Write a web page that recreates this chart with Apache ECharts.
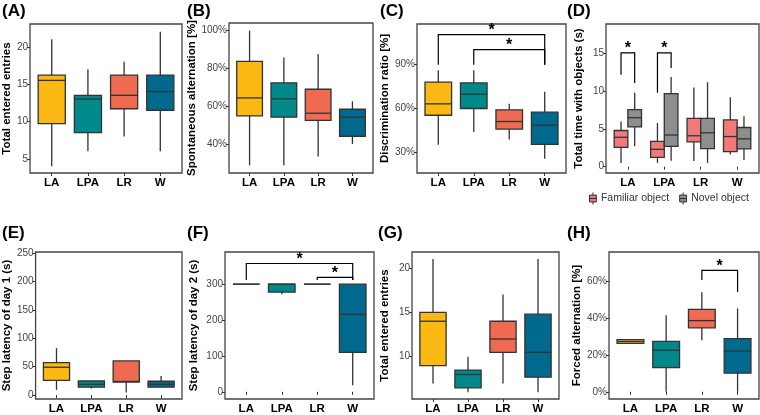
<!DOCTYPE html>
<html>
<head>
<meta charset="utf-8">
<script src="https://cdn.jsdelivr.net/npm/echarts@6/dist/echarts.min.js"></script>
<style>html,body{margin:0;padding:0;background:#fff}#c{width:760px;height:415px}</style>
</head>
<body>
<div id="c"></div>
<script>
// ---------- DATA ----------
const groups = ['LA', 'LPA', 'LR', 'W'];
// each row: [min, q1, median, q3, max]
const entriesA   = [[4, 9.7, 15.5, 16.2, 21], [6, 8.5, 13, 13.5, 17], [8, 11.7, 13.5, 16.2, 18], [6, 11.5, 14, 16.2, 22]];
const spontB     = [[28.7, 54.9, 64.4, 83.7, 100], [28.7, 54.2, 63.9, 72.4, 85.8], [33.4, 52.5, 56.3, 69, 87.6], [40, 44.1, 54.2, 58.4, 62.6]];
const discrC     = [[35.2, 55.4, 63.2, 78.1, 86.1], [44, 60, 69.8, 77.5, 86.1], [38.8, 45.9, 51.1, 59.1, 63.2], [25.7, 35.5, 48.6, 57.5, 71.4]];
const familiarD  = [[0.5, 2.57, 3.9, 4.8, 6.0], [0.5, 1.24, 2.3, 3.36, 5.8], [0.75, 3.3, 4.1, 6.4, 10.5], [1.6, 2.0, 4.0, 6.2, 9.2]];
const novelD     = [[2.7, 5.27, 6.5, 7.57, 9.8], [0.8, 2.7, 4.2, 9.7, 11.9], [0.5, 2.4, 4.5, 6.4, 11.2], [0.9, 2.35, 3.7, 5.2, 6.7]];
const latency1E  = [[9.2, 26, 49, 57.2, 82.6], [11.5, 13.9, 19, 24.8, 24.8], [4.6, 23, 24, 60, 60], [13.9, 13.9, 19, 24.3, 33.5]];
const latency2F  = [[300, 300, 300, 300, 300], [272, 278, 300, 300, 300], [300, 300, 300, 300, 300], [18, 110, 216, 300, 300]];
const entriesG   = [[7, 9, 14, 15, 21], [6, 6.5, 8, 8.5, 10], [7, 10.5, 12, 14, 17], [6, 7.7, 10.5, 14.8, 21]];
const forcedH    = [[26.2, 26.2, 27.2, 28.2, 28.2], [0, 13.1, 22.5, 27.3, 41.4], [27.9, 34.6, 38.5, 44.6, 53.8], [0, 10.1, 22, 28.8, 45.1]];
// significance brackets: [fromPos, toPos, top, leftLegEnd, rightLegEnd]
const sigC = [[1, 4, 110.5, 90, 90], [2, 4, 100.3, 90, 90]];
const sigD = [[0.8125, 1.1875, 15.1, 12.2, 11.1], [1.8125, 2.1875, 15.1, 9.8, 13.1]];
const sigF = [[1, 4, 357.6, 312, 312], [3, 4, 319, 312, 312]];
const sigH = [[3, 4, 65.7, 60.5, 54]];
// tick labels
const ticksA = [5, 10, 15, 20];
const ticksB = [40, 60, 80, 100];
const ticksC = [30, 60, 90];
const ticksD = [0, 5, 10, 15];
const ticksE = [0, 50, 100, 150, 200, 250];
const ticksF = [0, 100, 200, 300];
const ticksG = [10, 15, 20];
const ticksH = [0, 20, 40, 60];
const legendNames = ['Familiar object', 'Novel object'];

// ---------- STYLE / LAYOUT ----------
const groupColors = ['#FDB913', '#00898A', '#EE6A50', '#006A8E'];
const objectColors = ['#F07A7A', '#8E8E8E'];
const edge = '#333333';
const FONT = 'Liberation Sans, Arial, sans-serif';

const panels = [
  {label: '(A)', lx: 2,   ly: 3,   grid: [29, 24, 153, 149],  y: [3.1, 23.05],   ticks: ticksA, pct: false, name: 'Total entered entries',        gap: 17},
  {label: '(B)', lx: 187, ly: 3,   grid: [229, 23, 144, 150], y: [24.66, 104.06], ticks: ticksB, pct: true,  name: 'Spontaneous alternation [%]',  gap: 30},
  {label: '(C)', lx: 380, ly: 3,   grid: [417, 24, 149, 149], y: [15.9, 117.8],  ticks: ticksC, pct: true,  name: 'Discrimination ratio [%]',     gap: 25},
  {label: '(D)', lx: 567, ly: 3,   grid: [606, 24, 153, 149], y: [-0.84, 18.94], ticks: ticksD, pct: false, name: 'Total time with objects (s)',  gap: 21},
  {label: '(E)', lx: 2,   ly: 225, grid: [32, 252, 150, 149], y: [-6.9, 251.7],  ticks: ticksE, pct: false, name: 'Step latency of day 1 (s)',    gap: 20},
  {label: '(F)', lx: 187, ly: 225, grid: [225, 252, 149, 149], y: [-20, 389.7],  ticks: ticksF, pct: false, name: 'Step latency of day 2 (s)',    gap: 25},
  {label: '(G)', lx: 378, ly: 225, grid: [412, 252, 147, 149], y: [5.24, 21.8],  ticks: ticksG, pct: false, name: 'Total entered entries',        gap: 21},
  {label: '(H)', lx: 567, ly: 225, grid: [609, 252, 150, 149], y: [-3.9, 75.6],  ticks: ticksH, pct: true,  name: 'Forced alternation [%]',       gap: 25}
];

function boxSeries(gi, stats, offset, width, colorOf, name) {
  return {
    type: 'custom', name: name, xAxisIndex: gi, yAxisIndex: gi, z: 3,
    itemStyle: {color: colorOf(0), borderColor: edge, borderWidth: 1},
    data: stats.map((s, i) => [i + 1 + offset, s[0], s[1], s[2], s[3], s[4], i]),
    encode: {x: 0, y: [1, 2, 3, 4, 5]},
    renderItem: function (params, api) {
      const x = api.value(0);
      const pLo = api.coord([x, api.value(1)]);
      const pQ1 = api.coord([x, api.value(2)]);
      const pMd = api.coord([x, api.value(3)]);
      const pQ3 = api.coord([x, api.value(4)]);
      const pHi = api.coord([x, api.value(5)]);
      const w = api.size([width, 0])[0];
      const col = colorOf(api.value(6));
      return {
        type: 'group',
        children: [
          {type: 'line', shape: {x1: pLo[0], y1: pLo[1], x2: pHi[0], y2: pHi[1]}, style: {stroke: edge, lineWidth: 1.3}},
          {type: 'rect', shape: {x: pQ3[0] - w / 2, y: pQ3[1], width: w, height: pQ1[1] - pQ3[1]}, style: {fill: col, stroke: edge, lineWidth: 1.3}},
          {type: 'line', shape: {x1: pMd[0] - w / 2, y1: pMd[1], x2: pMd[0] + w / 2, y2: pMd[1]}, style: {stroke: edge, lineWidth: 1.3}}
        ]
      };
    }
  };
}

function sigSeries(gi, sig) {
  return {
    type: 'custom', xAxisIndex: gi, yAxisIndex: gi, z: 4, silent: true, clip: false,
    data: sig,
    encode: {x: [0, 1], y: [2, 3, 4]},
    renderItem: function (params, api) {
      const a = api.value(0), b = api.value(1), top = api.value(2);
      const p1 = api.coord([a, api.value(3)]);
      const p2 = api.coord([a, top]);
      const p3 = api.coord([b, top]);
      const p4 = api.coord([b, api.value(4)]);
      return {
        type: 'group',
        children: [
          {type: 'polyline', shape: {points: [p1, p2, p3, p4]}, style: {stroke: '#000', lineWidth: 1.2, fill: null}},
          {type: 'text', x: (p2[0] + p3[0]) / 2, y: p2[1] + 4, style: {text: '*', font: 'bold 16px ' + FONT, fill: '#000', align: 'center', verticalAlign: 'bottom'}}
        ]
      };
    }
  };
}

const grids = [], xAxes = [], yAxes = [], titles = [];
panels.forEach((p, i) => {
  grids.push({left: p.grid[0], top: p.grid[1], width: p.grid[2], height: p.grid[3], show: true, borderColor: '#444', borderWidth: 1.3, backgroundColor: 'transparent', containLabel: false});
  xAxes.push({
    type: 'value', gridIndex: i, min: 0.4, max: 4.6,
    splitLine: {show: false}, axisLine: {show: false},
    axisTick: {show: true, length: 3, customValues: [1, 2, 3, 4], lineStyle: {color: edge}},
    axisLabel: {customValues: [1, 2, 3, 4], formatter: v => groups[Math.round(v) - 1], fontWeight: 'bold', fontSize: 11.5, color: '#000', fontFamily: FONT, margin: 4}
  });
  yAxes.push({
    type: 'value', gridIndex: i, min: p.y[0], max: p.y[1],
    name: p.name, nameLocation: 'middle', nameGap: p.gap,
    nameTextStyle: {fontWeight: 'bold', fontSize: 11.5, color: '#000', fontFamily: FONT},
    splitLine: {show: false}, axisLine: {show: false},
    axisTick: {show: true, length: 3, customValues: p.ticks, lineStyle: {color: edge}},
    axisLabel: {customValues: p.ticks, formatter: v => p.pct ? v + '%' : String(v), fontSize: 10, color: '#444', fontFamily: FONT, margin: 2}
  });
  titles.push({text: p.label, left: p.lx, top: p.ly, padding: 0, textStyle: {fontSize: 17, fontWeight: 'bold', color: '#000', fontFamily: FONT}});
});

const byGroup = i => groupColors[i];
const series = [
  boxSeries(0, entriesA, 0, 0.75, byGroup, 'A'),
  boxSeries(1, spontB, 0, 0.75, byGroup, 'B'),
  boxSeries(2, discrC, 0, 0.75, byGroup, 'C'),
  sigSeries(2, sigC),
  boxSeries(3, familiarD, -0.1875, 0.375, () => objectColors[0], legendNames[0]),
  boxSeries(3, novelD, 0.1875, 0.375, () => objectColors[1], legendNames[1]),
  sigSeries(3, sigD),
  boxSeries(4, latency1E, 0, 0.75, byGroup, 'E'),
  boxSeries(5, latency2F, 0, 0.75, byGroup, 'F'),
  sigSeries(5, sigF),
  boxSeries(6, entriesG, 0, 0.75, byGroup, 'G'),
  boxSeries(7, forcedH, 0, 0.75, byGroup, 'H'),
  sigSeries(7, sigH)
];

const boxIcon = 'path://M4,0L4,3M0,3L8,3L8,11L0,11ZM0,7L8,7M4,11L4,14';
const option = {
  animation: false,
  backgroundColor: '#fff',
  title: titles,
  grid: grids,
  xAxis: xAxes,
  yAxis: yAxes,
  legend: {
    data: legendNames.map((n, k) => ({name: n, icon: boxIcon, itemStyle: {color: objectColors[k], borderColor: edge, borderWidth: 1}})),
    left: 589, top: 192, itemWidth: 8, itemHeight: 12, itemGap: 10, padding: 0, selectedMode: false,
    textStyle: {fontSize: 10.5, color: '#333', fontFamily: FONT, padding: [0, 0, 0, -1]}
  },
  series: series
};
const chart = echarts.init(document.getElementById('c'), null, {renderer: 'canvas'});
chart.setOption(option);
</script>
</body>
</html>
